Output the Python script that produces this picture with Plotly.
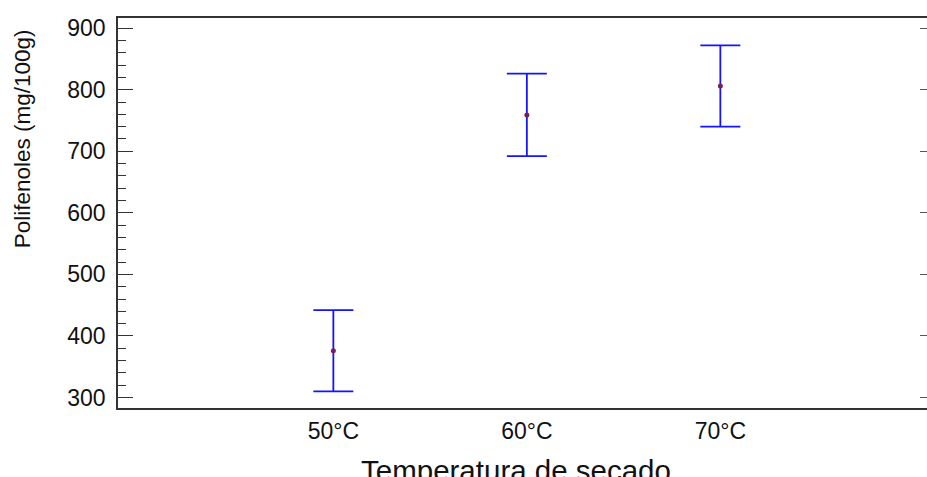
import plotly.graph_objects as go

categories = ["50°C", "60°C", "70°C"]
means = [376, 759, 806]
errors = [66, 67, 66]
y_ticks = [300, 400, 500, 600, 700, 800, 900]

FONT = "Liberation Sans, Arial, sans-serif"
W, H = 927, 477
ML, MT, MB, MR = 118, 17.5, 69, 0
pw = W - ML - MR
ph = H - MT - MB

fig = go.Figure()
fig.add_trace(go.Scatter(
    x=categories, y=means, mode="markers",
    marker=dict(color="#7a1f55", size=5),
    error_y=dict(type="data", array=errors, visible=True,
                 color="#1414ff", thickness=1.8, width=20),
    showlegend=False, hoverinfo="x+y",
))
# invisible trace for right-side tick axis
fig.add_trace(go.Scatter(
    x=categories, y=means, mode="markers", marker=dict(opacity=0),
    yaxis="y2", showlegend=False, hoverinfo="skip",
))

yr = [283, 916.5]
fig.update_layout(
    width=W, height=H,
    margin=dict(l=ML, r=MR, t=MT, b=MB, pad=0),
    paper_bgcolor="white", plot_bgcolor="white",
    font=dict(family=FONT, size=23, color="#111111"),
    xaxis=dict(
        type="category", range=[-1.113, 3.068],
        showline=True, linecolor="#333333", linewidth=1.5, mirror=True,
        ticks="", showgrid=False, zeroline=False,
        tickfont=dict(family=FONT, size=23, color="#111111"),
        ticklabelstandoff=2,
    ),
    yaxis=dict(
        range=yr, tickvals=y_ticks,
        showline=True, linecolor="#333333", linewidth=1.5, mirror=False,
        ticks="inside", ticklen=15, tickwidth=1.3, tickcolor="#333333",
        minor=dict(dtick=20, ticks="inside", ticklen=8, tickwidth=1.2, tickcolor="#333333", showgrid=False),
        showgrid=False, zeroline=False,
        tickfont=dict(family=FONT, size=23, color="#111111"),
        ticklabelstandoff=6,
    ),
    yaxis2=dict(
        range=yr, tickvals=y_ticks, overlaying="y", side="right",
        showline=False, ticks="inside", ticklen=7, tickwidth=1.3, tickcolor="#555555",
        showticklabels=False, showgrid=False, zeroline=False,
    ),
    annotations=[
        dict(text="Polifenoles (mg/100g)", textangle=-90,
             x=(22 - ML) / pw, y=(H - MB - 139) / ph, xref="paper", yref="paper",
             xanchor="center", yanchor="middle", showarrow=False,
             font=dict(family=FONT, size=22.5, color="#111111")),
        dict(text="Temperatura de secado",
             x=(516 - ML) / pw, y=(H - MB - 452) / ph, xref="paper", yref="paper",
             xanchor="center", yanchor="top", showarrow=False,
             font=dict(family=FONT, size=29.5, color="#111111")),
    ],
)

fig.write_html("out.html")
